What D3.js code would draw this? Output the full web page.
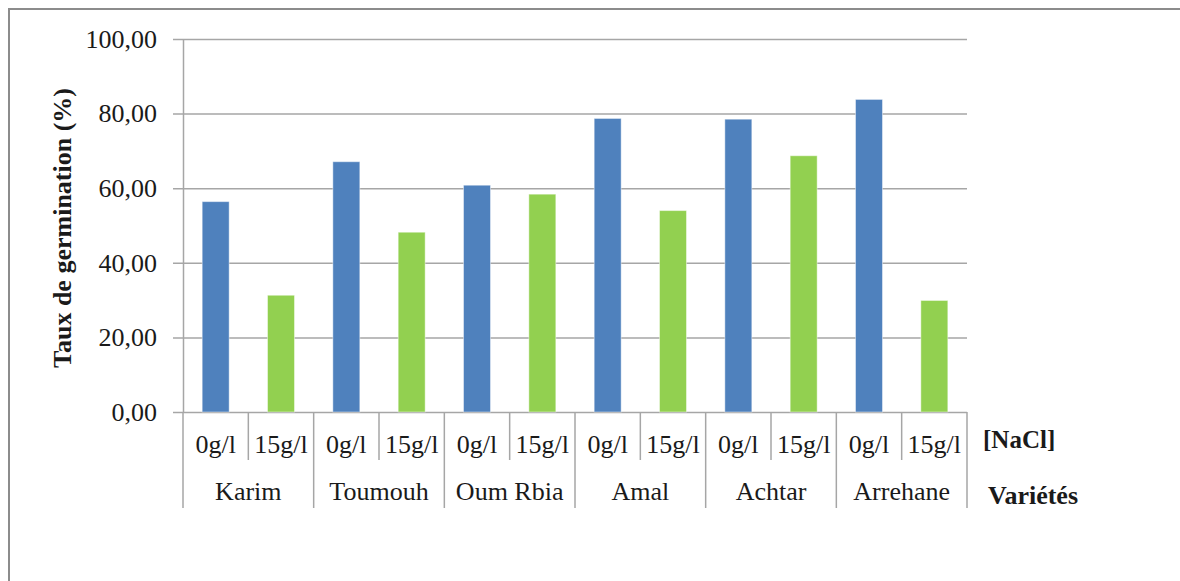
<!DOCTYPE html>
<html>
<head>
<meta charset="utf-8">
<script src="https://cdn.jsdelivr.net/npm/d3@7"></script>
<style>
  html, body { margin: 0; padding: 0; background: #fff; }
  svg { display: block; }
  text { font-family: "Liberation Serif", "Times New Roman", serif; fill: #1a1a1a; }
</style>
</head>
<body>
<svg id="chart" width="1180" height="581"></svg>
<script>
// Germination rate per variety under two NaCl concentrations
const varieties = ["Karim", "Toumouh", "Oum Rbia", "Amal", "Achtar", "Arrehane"];
const concentrations = ["0g/l", "15g/l"];
const rate0 = [56.4, 67.1, 60.8, 78.7, 78.5, 83.8];
const rate15 = [31.3, 48.2, 58.4, 54.0, 68.7, 29.9];
const yTicks = [0, 20, 40, 60, 80, 100];
const yTitle = "Taux de germination (%)";
const concTitle = "[NaCl]";
const varTitle = "Variétés";

const colors = { "0g/l": "#4F81BD", "15g/l": "#92D050" };

// Flatten into one row per (variety, concentration)
const rows = [];
varieties.forEach((v, i) => {
  rows.push({ variety: v, conc: concentrations[0], value: rate0[i] });
  rows.push({ variety: v, conc: concentrations[1], value: rate15[i] });
});
const keyOf = d => d.variety + "|" + d.conc;

const svg = d3.select("#chart");

// Outer frame
svg.append("rect")
  .attr("x", 9).attr("y", 9)
  .attr("width", 1300).attr("height", 700)
  .attr("fill", "none")
  .attr("stroke", "#8c8c8c")
  .attr("stroke-width", 2);

const plot = { left: 183, right: 967, top: 39, bottom: 412 };
const plotW = plot.right - plot.left;

const g = svg.append("g").attr("transform", `translate(${plot.left},0)`);

// Scales
const slot = d3.scaleBand().domain(rows.map(keyOf)).range([0, plotW]).padding(0);
const xBar = d3.scaleBand().domain(rows.map(keyOf)).range([0, plotW])
  .paddingInner(0.587).paddingOuter(0.2935);
const y = d3.scaleLinear().domain([0, 100]).range([plot.bottom, plot.top]);

const frLocale = d3.formatLocale({ decimal: ",", thousands: " ", grouping: [3], currency: ["", " €"] });
const fmt = frLocale.format(".2f");

// Y axis with gridlines
const yAxis = g.append("g")
  .call(d3.axisLeft(y).tickValues(yTicks).tickFormat(fmt).tickSizeInner(-plotW).tickSizeOuter(0).tickPadding(26));
yAxis.select(".domain").attr("stroke", "#a6a6a6").attr("stroke-width", 1.5);
yAxis.selectAll(".tick line")
  .attr("x1", -10).attr("x2", plotW)
  .attr("stroke", "#a6a6a6").attr("stroke-width", 1.5);
yAxis.selectAll(".tick text")
  .style("font-family", '"Liberation Serif", "Times New Roman", serif')
  .style("font-size", "26px")
  .attr("fill", "#1a1a1a");

// Bars
g.selectAll("rect.bar")
  .data(rows)
  .join("rect")
  .attr("class", "bar")
  .attr("x", d => xBar(keyOf(d)))
  .attr("width", xBar.bandwidth())
  .attr("y", d => y(d.value))
  .attr("height", d => y(0) - y(d.value))
  .attr("fill", d => colors[d.conc])
  .attr("stroke", "rgba(255,255,255,0.45)")
  .attr("stroke-width", 1);

// Category separators: short ones between concentrations, long ones between varieties
const nSlots = rows.length;
const bounds = d3.range(nSlots + 1);
g.selectAll("line.sep")
  .data(bounds)
  .join("line")
  .attr("class", "sep")
  .attr("x1", i => i === nSlots ? plotW : slot(keyOf(rows[i])))
  .attr("x2", i => i === nSlots ? plotW : slot(keyOf(rows[i])))
  .attr("y1", plot.bottom)
  .attr("y2", i => i % 2 === 0 ? 508 : 460)
  .attr("stroke", "#a6a6a6")
  .attr("stroke-width", 1.5);

// Concentration labels
g.selectAll("text.conc")
  .data(rows)
  .join("text")
  .attr("class", "conc")
  .attr("x", d => slot(keyOf(d)) + slot.bandwidth() / 2)
  .attr("y", 453)
  .attr("text-anchor", "middle")
  .style("font-size", "26px")
  .text(d => d.conc);

// Variety labels
g.selectAll("text.variety")
  .data(varieties)
  .join("text")
  .attr("class", "variety")
  .attr("x", v => slot(v + "|" + concentrations[0]) + slot.bandwidth())
  .attr("y", 500)
  .attr("text-anchor", "middle")
  .style("font-size", "26px")
  .text(v => v);

// Axis titles
svg.append("text")
  .attr("transform", "translate(71,228) rotate(-90)")
  .attr("text-anchor", "middle")
  .style("font-size", "26px")
  .style("font-weight", "bold")
  .text(yTitle);

svg.append("text")
  .attr("x", 983).attr("y", 448)
  .style("font-size", "25px")
  .style("font-weight", "bold")
  .text(concTitle);

svg.append("text")
  .attr("x", 988).attr("y", 504)
  .style("font-size", "26px")
  .style("font-weight", "bold")
  .text(varTitle);
</script>
</body>
</html>
